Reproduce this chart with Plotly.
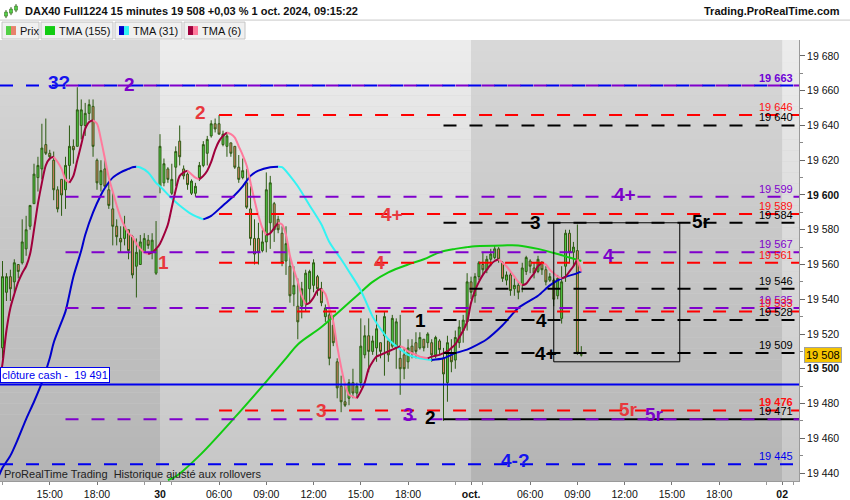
import pandas as pd
import plotly.graph_objects as go

FONT = "Liberation Sans, Arial, sans-serif"

# trading sessions shown: first bar + number of 15 min bars
sessions = [("2024-09-27 12:00", 40), ("2024-09-30 02:15", 79), ("2024-10-01 02:15", 29)]

opens = [19512, 19544, 19553, 19550, 19560, 19561, 19569, 19582, 19595, 19610,
         19615, 19629, 19624, 19620, 19603, 19609, 19603, 19617, 19628, 19628,
         19640, 19640, 19647, 19651, 19620, 19606, 19615, 19603, 19592, 19582,
         19575, 19575, 19580, 19576, 19559, 19560, 19567, 19574, 19567, 19555,
         # 30 sept
         19605, 19607, 19615, 19601, 19616, 19631, 19615, 19612, 19601, 19601,
         19610, 19617, 19624, 19634, 19641, 19641, 19629, 19628, 19630, 19628,
         19616, 19610, 19607, 19592, 19575, 19575, 19568, 19573, 19584, 19595,
         19586, 19578, 19562, 19559, 19543, 19536, 19536, 19538, 19546, 19548,
         19553, 19546, 19530, 19531, 19525, 19504, 19490, 19481, 19483, 19492,
         19486, 19492, 19508, 19519, 19510, 19512, 19515, 19519, 19516, 19513,
         19512, 19506, 19508, 19504, 19513, 19515, 19512, 19517, 19515, 19515,
         19508, 19516, 19506, 19492, 19508, 19505, 19515, 19522, 19527,
         # 1 oct
         19550, 19542, 19553, 19560, 19557, 19563, 19564, 19569, 19561, 19551,
         19554, 19546, 19548, 19548, 19556, 19562, 19558, 19556, 19561, 19557,
         19551, 19551, 19542, 19529, 19559, 19578, 19567, 19568, 19508]
highs = [19562, 19555, 19557, 19563, 19560, 19586, 19588, 19594, 19618, 19622,
         19641, 19644, 19626, 19625, 19605, 19609, 19622, 19640, 19632, 19662,
         19655, 19653, 19655, 19655, 19621, 19620, 19620, 19607, 19601, 19586,
         19582, 19588, 19580, 19577, 19575, 19577, 19578, 19577, 19578, 19585,
         19635, 19621, 19616, 19618, 19628, 19640, 19617, 19613, 19609, 19607,
         19619, 19631, 19634, 19643, 19644, 19646, 19637, 19636, 19630, 19628,
         19623, 19621, 19615, 19605, 19586, 19584, 19580, 19613, 19611, 19596,
         19588, 19582, 19582, 19565, 19559, 19552, 19550, 19557, 19557, 19563,
         19554, 19550, 19537, 19535, 19531, 19506, 19496, 19492, 19494, 19500,
         19492, 19529, 19525, 19529, 19519, 19531, 19515, 19533, 19517, 19531,
         19529, 19531, 19512, 19517, 19517, 19521, 19521, 19517, 19521, 19517,
         19519, 19517, 19512, 19519, 19517, 19522, 19528, 19531, 19555,
         19553, 19555, 19562, 19567, 19565, 19569, 19571, 19570, 19562, 19556,
         19556, 19552, 19550, 19561, 19565, 19563, 19561, 19565, 19562, 19559,
         19555, 19552, 19554, 19559, 19580, 19580, 19573, 19583, 19513]
lows = [19506, 19539, 19539, 19544, 19552, 19560, 19565, 19580, 19595, 19602,
        19609, 19623, 19620, 19597, 19590, 19588, 19592, 19609, 19618, 19628,
        19632, 19634, 19643, 19622, 19603, 19602, 19605, 19592, 19571, 19571,
        19567, 19571, 19563, 19552, 19541, 19560, 19567, 19569, 19563, 19554,
        19601, 19605, 19607, 19600, 19605, 19617, 19609, 19603, 19600, 19599,
        19608, 19616, 19617, 19633, 19636, 19635, 19628, 19622, 19622, 19615,
        19607, 19609, 19592, 19571, 19560, 19560, 19567, 19567, 19569, 19573,
        19578, 19559, 19554, 19538, 19536, 19517, 19529, 19533, 19538, 19544,
        19542, 19536, 19527, 19502, 19513, 19483, 19475, 19478, 19479, 19483,
        19483, 19489, 19506, 19498, 19508, 19504, 19506, 19496, 19504, 19512,
        19500, 19485, 19494, 19500, 19506, 19506, 19511, 19510, 19512, 19504,
        19506, 19508, 19470, 19481, 19498, 19500, 19512, 19515, 19522,
        19540, 19538, 19551, 19554, 19555, 19559, 19563, 19561, 19550, 19548,
        19542, 19542, 19540, 19544, 19554, 19555, 19552, 19555, 19554, 19548,
        19550, 19536, 19540, 19526, 19550, 19561, 19559, 19508, 19507]
closes = [19553, 19553, 19546, 19561, 19556, 19573, 19580, 19594, 19612, 19617,
          19627, 19624, 19622, 19603, 19592, 19600, 19617, 19628, 19626, 19649,
          19649, 19647, 19652, 19628, 19607, 19614, 19605, 19594, 19582, 19576,
          19573, 19582, 19568, 19554, 19567, 19573, 19575, 19571, 19574, 19569,
          19628, 19618, 19609, 19609, 19625, 19622, 19611, 19606, 19608, 19605,
          19617, 19629, 19632, 19641, 19638, 19635, 19635, 19634, 19624, 19616,
          19609, 19614, 19593, 19575, 19566, 19567, 19573, 19603, 19607, 19580,
          19580, 19561, 19572, 19542, 19548, 19527, 19546, 19555, 19556, 19561,
          19546, 19538, 19535, 19506, 19515, 19489, 19481, 19479, 19492, 19486,
          19490, 19513, 19519, 19510, 19516, 19523, 19510, 19530, 19508, 19529,
          19527, 19500, 19500, 19512, 19509, 19510, 19518, 19512, 19520, 19508,
          19518, 19511, 19497, 19515, 19504, 19518, 19524, 19528, 19550,
          19544, 19553, 19561, 19557, 19563, 19566, 19569, 19563, 19552, 19554,
          19545, 19548, 19544, 19558, 19564, 19559, 19555, 19563, 19557, 19550,
          19553, 19540, 19552, 19550, 19578, 19567, 19570, 19509, 19508]

# TMA (6)
tma6_t = ["09-27 11:45", "09-27 12:00", "09-27 12:15", "09-27 12:30", "09-27 12:45", "09-27 13:00",
          "09-27 13:15",
          "09-27 13:30", "09-27 13:45", "09-27 14:00", "09-27 14:15", "09-27 14:30", "09-27 14:45",
          "09-27 15:00", "09-27 15:15", "09-27 15:30", "09-27 15:45", "09-27 16:00", "09-27 16:15",
          "09-27 16:30", "09-27 16:45", "09-27 17:00", "09-27 17:15", "09-27 17:30", "09-27 17:45",
          "09-27 18:00", "09-27 18:15", "09-27 18:30", "09-27 18:45", "09-27 19:00", "09-27 19:15",
          "09-27 19:30", "09-27 19:45", "09-27 20:00", "09-27 20:15", "09-27 20:30", "09-27 20:45",
          "09-27 21:00", "09-27 21:15", "09-27 21:30", "09-27 21:45",
          "09-30 02:15", "09-30 02:30", "09-30 02:45", "09-30 03:00", "09-30 03:15", "09-30 03:30",
          "09-30 03:45", "09-30 04:00", "09-30 04:15", "09-30 04:30", "09-30 04:45", "09-30 05:00",
          "09-30 05:15", "09-30 05:30", "09-30 05:45", "09-30 06:00", "09-30 06:15", "09-30 06:30",
          "09-30 06:45", "09-30 07:00", "09-30 07:15", "09-30 07:30", "09-30 07:45", "09-30 08:00",
          "09-30 08:15", "09-30 08:30", "09-30 08:45", "09-30 09:00", "09-30 09:15", "09-30 09:30",
          "09-30 09:45", "09-30 10:00", "09-30 10:15", "09-30 10:30", "09-30 10:45", "09-30 11:00",
          "09-30 11:15", "09-30 11:30", "09-30 11:45", "09-30 12:00", "09-30 12:15", "09-30 12:30",
          "09-30 12:45", "09-30 13:00", "09-30 13:15", "09-30 13:30", "09-30 13:45", "09-30 14:00",
          "09-30 14:15", "09-30 14:30", "09-30 14:45", "09-30 15:00", "09-30 15:15", "09-30 15:30",
          "09-30 15:45", "09-30 16:00", "09-30 16:15", "09-30 16:30", "09-30 16:45", "09-30 17:00",
          "09-30 17:15", "09-30 17:30", "09-30 17:45", "09-30 18:00", "09-30 18:15", "09-30 18:30",
          "09-30 18:45", "09-30 19:00", "09-30 19:15", "09-30 19:30", "09-30 19:45", "09-30 20:00",
          "09-30 20:15", "09-30 20:30", "09-30 20:45", "09-30 21:00", "09-30 21:15", "09-30 21:30",
          "09-30 21:45",
          "10-01 02:15", "10-01 02:30", "10-01 02:45", "10-01 03:00", "10-01 03:15", "10-01 03:30",
          "10-01 03:45", "10-01 04:00", "10-01 04:15", "10-01 04:30", "10-01 04:45", "10-01 05:00",
          "10-01 05:15", "10-01 05:30", "10-01 05:45", "10-01 06:00", "10-01 06:15", "10-01 06:30",
          "10-01 06:45", "10-01 07:00", "10-01 07:15", "10-01 07:30", "10-01 07:45", "10-01 08:00",
          "10-01 08:15", "10-01 08:30", "10-01 08:45", "10-01 09:00", "10-01 09:15"]
tma6_v = [19490, 19503, 19522, 19535, 19543, 19550, 19555, 19559, 19566, 19580, 19595, 19607, 19617,
          19621, 19622, 19619, 19615, 19609, 19607, 19611, 19620, 19629, 19638, 19642, 19643,
          19641, 19632, 19621, 19610, 19602, 19594, 19587, 19582, 19578, 19576, 19572, 19569,
          19567, 19566, 19567, 19569,
          19572, 19577, 19583, 19593, 19603, 19611, 19613, 19614, 19612, 19610, 19609, 19611,
          19614, 19619, 19626, 19631, 19634, 19636, 19635, 19633, 19628, 19623, 19617, 19607,
          19597, 19588, 19581, 19577, 19578, 19581, 19584, 19583, 19577, 19565, 19557, 19550,
          19542, 19537, 19538, 19541, 19545, 19546, 19543, 19535, 19527, 19513, 19501, 19491,
          19485, 19484, 19483, 19487, 19492, 19500, 19504, 19507, 19508, 19509, 19510, 19511,
          19512, 19513, 19512, 19510, 19509, 19508, 19507, 19506.5, 19506, 19507, 19507.5, 19508,
          19509, 19510, 19512, 19514, 19518, 19522, 19527,
          19538, 19545, 19550, 19554, 19557, 19560, 19562, 19563, 19561, 19559, 19556, 19553,
          19550, 19548, 19549, 19552, 19555, 19559, 19561, 19560, 19557, 19555, 19553, 19552,
          19553, 19556, 19559, 19563, 19556]

# TMA (31)
tma31_t = ["09-27 11:45", "09-27 12:00", "09-27 12:30", "09-27 13:00", "09-27 13:30", "09-27 14:00",
           "09-27 14:30",
           "09-27 15:00", "09-27 15:15", "09-27 15:45", "09-27 16:00", "09-27 16:30", "09-27 17:00",
           "09-27 17:15", "09-27 17:45", "09-27 18:15", "09-27 18:30", "09-27 19:00", "09-27 19:30",
           "09-27 20:00", "09-27 20:15", "09-27 20:30", "09-27 20:45", "09-27 21:15", "09-27 21:45",
           "09-30 02:15", "09-30 03:00", "09-30 03:30", "09-30 04:15", "09-30 05:00", "09-30 05:30",
           "09-30 06:15", "09-30 07:00", "09-30 07:30", "09-30 08:00", "09-30 08:30", "09-30 09:15",
           "09-30 09:45", "09-30 10:00", "09-30 10:30", "09-30 11:00", "09-30 11:45", "09-30 12:30",
           "09-30 13:00", "09-30 13:45", "09-30 14:15", "09-30 15:00", "09-30 15:45", "09-30 16:15",
           "09-30 16:45", "09-30 17:15", "09-30 18:00", "09-30 18:45", "09-30 19:30", "09-30 20:15",
           "09-30 21:00", "09-30 21:45",
           "10-01 02:15", "10-01 03:15", "10-01 04:15", "10-01 05:15", "10-01 06:30", "10-01 07:15",
           "10-01 08:00", "10-01 09:00", "10-01 09:15"]
tma31_v = [19438, 19443, 19450, 19460, 19471, 19481, 19492, 19506, 19515, 19527, 19533, 19553, 19568,
           19577, 19590, 19600, 19604, 19610, 19613, 19615, 19616, 19616.2, 19615.8, 19613, 19607,
           19605, 19598, 19594, 19589, 19586, 19588, 19594, 19600, 19605, 19611, 19614, 19616,
           19616.3, 19616, 19611, 19605, 19594, 19583, 19573, 19563, 19556, 19545, 19530, 19523,
           19517, 19513, 19508, 19506, 19505, 19506, 19509, 19511,
           19512, 19517, 19525, 19535, 19542, 19548, 19552, 19555, 19556]

# TMA (155)
tma155_t = ["09-30 02:45", "09-30 03:15", "09-30 04:45", "09-30 07:00", "09-30 08:45", "09-30 10:15",
            "09-30 11:00", "09-30 12:30", "09-30 13:45", "09-30 14:45", "09-30 15:45", "09-30 16:45",
            "09-30 18:00", "09-30 19:00", "09-30 20:00", "09-30 21:00", "09-30 21:45",
            "10-01 02:30", "10-01 04:15", "10-01 05:15", "10-01 06:30", "10-01 07:45", "10-01 08:30",
            "10-01 09:15"]
tma155_v = [19436, 19438, 19450, 19472, 19490, 19506, 19514, 19524, 19534, 19542, 19550, 19555.5,
            19560, 19563, 19567, 19569, 19570, 19570.5, 19571, 19571, 19569, 19566, 19564, 19562]

# horizontal levels
purple_lvls = [19663, 19599, 19567, 19535, 19471]
red_lvls = [19646, 19589, 19561, 19533, 19476]
black_lvls = [19640, 19584, 19546, 19528, 19509]
black_solid_lvl = 19471
blue_lvls = [19663, 19445]
cash_close = 19491
last_price = 19508

price_tags = [19663, 19646, 19640, 19599, 19589, 19584, 19567, 19561, 19546, 19535, 19533,
              19528, 19509, 19476, 19471, 19445]

x_ticks = ["09-27 15:00", "09-27 18:00", "09-30 02:15", "09-30 06:00", "09-30 09:00", "09-30 12:00",
           "09-30 15:00", "09-30 18:00", "10-01 02:15", "10-01 06:00", "10-01 09:00", "10-01 12:00",
           "10-01 15:00", "10-01 18:00", "10-02 02:15"]
x_labels = ["15:00", "18:00", "<b>30</b>", "06:00", "09:00", "12:00", "15:00", "18:00", "<b>oct.</b>",
            "06:00", "09:00", "12:00", "15:00", "18:00", "<b>02</b>"]
x_minor = ["09-27 12:00", "09-27 21:00", "09-30 03:00", "09-30 21:00", "10-01 03:00", "10-01 21:00",
           "10-02 03:00"]

day_index = {"09-27": -1, "09-30": 0, "10-01": 1, "10-02": 2}


def pos(s):
    # night removed: each session runs 02:15 -> 22:00 (19.75 h)
    day, hm = s.split()
    h, m = hm.split(":")
    return day_index[day] * 19.75 + int(h) + int(m) / 60 - 2.25


bar_t = []
for start, n in sessions:
    bar_t += [t.strftime("%m-%d %H:%M") for t in pd.date_range(start, periods=n, freq="15min")]
bar_x = [pos(t) for t in bar_t]

XMIN, XMAX = -160 / 15.75, 639 / 15.75
YMIN, YMAX = 19435.4, 19689.2
PW, PH = 799, 443


def fx(px):
    return px / PW


def fy(py):
    return (483 - py) / PH


fig = go.Figure()

fig.add_trace(go.Candlestick(
    x=bar_x, open=opens, high=highs, low=lows, close=closes,
    increasing=dict(fillcolor="#52d046", line=dict(color="#2c5b12", width=1)),
    decreasing=dict(fillcolor="#e8826c", line=dict(color="#2c5b12", width=1)),
    whiskerwidth=0, hoverinfo="skip"))

fig.add_trace(go.Scatter(x=[pos(t) for t in tma155_t], y=tma155_v, mode="lines",
                         line=dict(color="#11cc11", width=2, shape="spline"), hoverinfo="skip"))


def add_dir_line(times, vals, up_col, down_col):
    xs = [pos(t) for t in times]
    runs = []
    sx, sy, cur = [xs[0]], [vals[0]], None
    for k in range(1, len(xs)):
        d = cur if vals[k] == vals[k - 1] else vals[k] > vals[k - 1]
        if cur is None:
            cur = d
        if d != cur:
            runs.append((sx, sy, cur))
            sx, sy, cur = [xs[k - 1]], [vals[k - 1]], d
        sx.append(xs[k])
        sy.append(vals[k])
    runs.append((sx, sy, cur))
    for rx, ry, up in runs:
        fig.add_trace(go.Scatter(x=rx, y=ry, mode="lines", hoverinfo="skip",
                                 line=dict(color=up_col if up else down_col, width=2,
                                           shape="spline", smoothing=0.8)))


add_dir_line(tma31_t, tma31_v, "#0000cc", "#33f3f3")
add_dir_line(tma6_t, tma6_v, "#a0003c", "#ff7a9c")

shapes = []

# day shading with a vertical gradient
bands = [(XMIN, pos("09-30 02:15"), (216, 216, 216), (180, 180, 180)),
         (pos("09-30 02:15"), pos("10-01 02:15"), (236, 236, 236), (198, 198, 198)),
         (pos("10-01 02:15"), pos("10-02 02:15"), (216, 216, 216), (180, 180, 180)),
         (pos("10-02 02:15"), XMAX, (236, 236, 236), (198, 198, 198))]
N = 40
for x0, x1, top, bot in bands:
    for k in range(N):
        f = (k + 0.5) / N
        c = tuple(round(bot[i] + (top[i] - bot[i]) * f) for i in range(3))
        shapes.append(dict(type="rect", xref="x", yref="paper", x0=x0, x1=x1,
                           y0=k / N, y1=(k + 1) / N, fillcolor="rgb(%d,%d,%d)" % c,
                           line=dict(width=0), layer="below"))


def hline(y, x0, color, dash="13px,13px", width=2):
    shapes.append(dict(type="line", xref="x", yref="y", x0=x0, x1=XMAX, y0=y, y1=y,
                       line=dict(color=color, width=width, dash=dash), layer="above"))


hline(cash_close, XMIN, "#0000ee", dash="solid")
for v in blue_lvls:
    hline(v, XMIN, "#0000ee")
hline(black_solid_lvl, pos("09-30 20:15"), "#000000", dash="solid")
for v in purple_lvls:
    hline(v, pos("09-27 16:00"), "#7f00cc")
for v in red_lvls:
    hline(v, pos("09-30 06:00"), "#ff0000")
for v in black_lvls:
    hline(v, pos("09-30 20:15"), "#000000")

shapes.append(dict(type="rect", xref="x", yref="y", x0=pos("10-01 07:30"), x1=pos("10-01 15:30"),
                   y0=19504, y1=19584, line=dict(color="#000000", width=1), layer="above"))

# title bar separator
shapes.append(dict(type="line", xref="paper", yref="paper", x0=0, x1=fx(850), y0=fy(20), y1=fy(20),
                   line=dict(color="#c8c8c8", width=1)))

# legend strip
legend_items = [("Prix", 2, 39, ["#52d046", "#e8826c"]),
                ("TMA (155)", 41, 113, ["#11cc11", "#11cc11"]),
                ("TMA (31)", 115, 182, ["#0000cc", "#33f3f3"]),
                ("TMA (6)", 184, 245, ["#a0003c", "#ff7a9c"])]
annotations = []
for name, a, b, cols in legend_items:
    shapes.append(dict(type="rect", xref="paper", yref="paper", x0=fx(a), x1=fx(b),
                       y0=fy(39), y1=fy(22), fillcolor="#f0f0f0",
                       line=dict(color="#c4c4c4", width=1)))
    shapes.append(dict(type="rect", xref="paper", yref="paper", x0=fx(a + 4), x1=fx(a + 9),
                       y0=fy(35), y1=fy(26), fillcolor=cols[0], line=dict(width=0)))
    shapes.append(dict(type="rect", xref="paper", yref="paper", x0=fx(a + 9), x1=fx(a + 14),
                       y0=fy(35), y1=fy(26), fillcolor=cols[1], line=dict(width=0)))
    annotations.append(dict(xref="paper", yref="paper", x=fx(a + 16), y=fy(30.5), text=name,
                            showarrow=False, xanchor="left", yanchor="middle",
                            font=dict(size=11, color="#111")))

# small candle icon
for cx, top, bot in [(6, 10, 18), (11, 7, 15), (16, 4, 12)]:
    shapes.append(dict(type="line", xref="paper", yref="paper", x0=fx(cx), x1=fx(cx),
                       y0=fy(bot), y1=fy(top), line=dict(color="#2c5b12", width=1)))
    shapes.append(dict(type="rect", xref="paper", yref="paper", x0=fx(cx - 1.5), x1=fx(cx + 1.5),
                       y0=fy(bot - 2), y1=fy(top + 2), fillcolor="#52d046",
                       line=dict(color="#2c5b12", width=0.5)))

annotations.append(dict(xref="paper", yref="paper", x=fx(23), y=fy(11), showarrow=False,
                        xanchor="left", yanchor="middle",
                        text="<b>DAX40 Full1224 15 minutes 19 508 +0,03 % 1 oct. 2024, 09:15:22</b>",
                        font=dict(size=11, color="#111")))
annotations.append(dict(xref="paper", yref="paper", x=fx(842), y=fy(11), showarrow=False,
                        xanchor="right", yanchor="middle", text="<b>Trading.ProRealTime.com</b>",
                        font=dict(size=11, color="#111")))
annotations.append(dict(xref="paper", yref="paper", x=fx(2), y=fy(476), showarrow=False,
                        xanchor="left", yanchor="middle",
                        text="ProRealTime Trading\u00a0\u00a0Historique ajusté aux rollovers",
                        font=dict(size=11, color="#222")))
annotations.append(dict(xref="paper", yref="y", x=0, y=cash_close, showarrow=False,
                        xanchor="left", yanchor="bottom", yshift=1,
                        text="clôture cash -\u00a0\u00a019 491", bgcolor="white",
                        bordercolor="#0000ee", borderwidth=1, borderpad=1,
                        font=dict(size=11, color="#0000ee")))


def fmt(v):
    return "{:,}".format(v).replace(",", " ")


tag_colors = {19663: "#6e00d6", 19599: "#7f00cc", 19567: "#7f00cc", 19535: "#7f00cc",
              19646: "#ff1010", 19589: "#ff1010", 19561: "#ff1010", 19533: "#ff1010",
              19476: "#ff1010", 19445: "#0000ee"}
for v in price_tags:
    txt = fmt(v)
    if v in (19663, 19476):
        txt = "<b>" + txt + "</b>"
    annotations.append(dict(xref="paper", yref="y", x=1, y=v, xshift=-4, yshift=0,
                            showarrow=False, xanchor="right", yanchor="bottom", text=txt,
                            font=dict(size=11, color=tag_colors.get(v, "#000000"))))

annotations.append(dict(xref="paper", yref="y", x=1, y=last_price, xshift=5, showarrow=False,
                        xanchor="left", yanchor="middle", text=fmt(last_price),
                        bgcolor="#f5c400", bordercolor="#a0a0a0", borderwidth=1, borderpad=1,
                        font=dict(size=11, color="#000")))

# wave labels
RED, PURPLE, BLUE, BLACK = "#e8383d", "#7b00c9", "#1414ee", "#000000"
wave_labels = [("3?", "09-27 15:35", 19665, BLUE), ("2", "09-27 20:05", 19663.5, PURPLE),
               ("2", "09-30 04:51", 19647.5, RED), ("1", "09-30 02:30", 19561, RED),
               ("4+", "09-30 16:58", 19589, RED), ("4", "09-30 16:13", 19561.4, RED),
               ("3", "09-30 12:32", 19476, RED), ("3", "09-30 18:03", 19473.8, PURPLE),
               ("2", "09-30 19:27", 19472, BLACK), ("1", "09-30 18:49", 19527.6, BLACK),
               ("3", "10-01 06:19", 19584, BLACK), ("4", "10-01 06:45", 19527.6, BLACK),
               ("4+", "10-01 07:01", 19508.7, BLACK), ("4+", "10-01 12:01", 19600.4, PURPLE),
               ("4", "10-01 10:57", 19565, PURPLE), ("5r", "10-01 16:52", 19585, BLACK),
               ("5r", "10-01 12:13", 19476.6, RED), ("5r", "10-01 13:55", 19473.8, PURPLE),
               ("4-?", "10-01 05:03", 19447, BLUE)]
for txt, t, v, col in wave_labels:
    annotations.append(dict(xref="x", yref="y", x=pos(t), y=v, text="<b>" + txt + "</b>",
                            showarrow=False, xanchor="center", yanchor="middle",
                            font=dict(size=19, color=col)))

y_ticks = list(range(19440, 19681, 20))
y_labels = ["<b>" + fmt(v) + "</b>" if v in (19500, 19600) else fmt(v) for v in y_ticks]

fig.update_layout(
    width=850, height=500,
    margin=dict(l=0, r=51, t=40, b=17),
    paper_bgcolor="white", plot_bgcolor="#d0d0d0",
    showlegend=False, hovermode=False,
    font=dict(family=FONT, size=11, color="#111"),
    shapes=shapes, annotations=annotations,
    xaxis=dict(range=[XMIN, XMAX], showgrid=False, zeroline=False, rangeslider=dict(visible=False),
               tickmode="array", tickvals=[pos(t) for t in x_ticks], ticktext=x_labels,
               ticks="outside", ticklen=3, tickcolor="#777", tickfont=dict(size=10.5, color="#111"),
               minor=dict(tickvals=[pos(t) for t in x_minor], ticks="outside", ticklen=3,
                          tickcolor="#999"),
               showline=True, linecolor="#9a9a9a", fixedrange=True),
    yaxis=dict(range=[YMIN, YMAX], side="right", showgrid=False, zeroline=False,
               tickmode="array", tickvals=y_ticks, ticktext=y_labels,
               ticks="outside", ticklen=5, tickcolor="#666", tickfont=dict(size=10.5, color="#111"),
               minor=dict(tickvals=[v + 10 for v in y_ticks], ticks="outside", ticklen=3,
                          tickcolor="#888"),
               showline=True, linecolor="#9a9a9a", fixedrange=True),
)

# page body has a default 8px margin: remove it so the figure fills the window
fig.write_html("out.html", config={"displayModeBar": False},
               post_script="document.body.style.margin='0';document.body.style.overflow='hidden';")
